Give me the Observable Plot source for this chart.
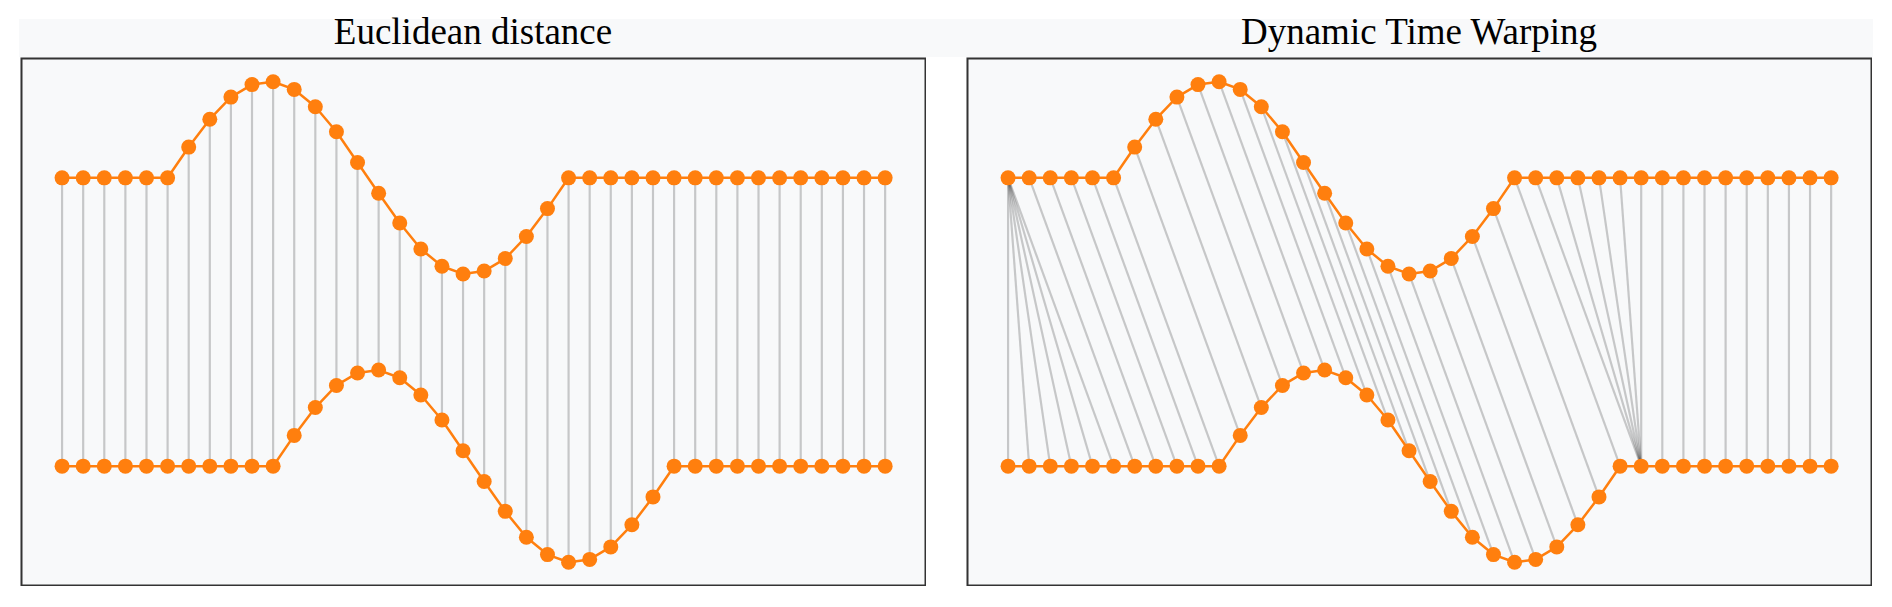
<!DOCTYPE html>
<html>
<head>
<meta charset="utf-8">
<script src="https://cdn.jsdelivr.net/npm/d3@7"></script>
<script src="https://cdn.jsdelivr.net/npm/@observablehq/plot@0.6"></script>
<style>
  html, body { margin: 0; padding: 0; background: #ffffff; }
  #wrap { position: relative; width: 1892px; height: 607px; overflow: hidden; }
  #band { position: absolute; left: 19px; top: 19px; width: 1854px; height: 38px; background: #f8f9fa; }
  .title { position: absolute; top: 13px; width: 906px; text-align: center; font-family: "Liberation Serif", "DejaVu Serif", serif; font-size: 37px; line-height: 38px; color: #000; white-space: nowrap; }
  .panel { position: absolute; top: 57px; }
</style>
</head>
<body>
<div id="wrap">
  <div id="band"></div>
  <div class="title" id="t1" style="left:20px"></div>
  <div class="title" id="t2" style="left:966px"></div>
  <div class="panel" id="p1" style="left:20px"></div>
  <div class="panel" id="p2" style="left:966px"></div>
</div>
<script>
// ---- data ----
const titles = ["Euclidean distance", "Dynamic Time Warping"];

// series A (upper curve), 40 samples
const seriesA = [0, 0, 0, 0, 0, 0, 0.32, 0.61, 0.84, 0.97, 1.00, 0.92, 0.74, 0.48, 0.16, -0.16, -0.47, -0.74, -0.92, -1.00,
                 -0.97, -0.84, -0.61, -0.32, 0, 0, 0, 0, 0, 0, 0, 0, 0, 0, 0, 0, 0, 0, 0, 0];
// series B (lower curve), 40 samples
const seriesB = [0, 0, 0, 0, 0, 0, 0, 0, 0, 0, 0, 0.32, 0.61, 0.84, 0.97, 1.00, 0.92, 0.74, 0.48, 0.16,
                 -0.16, -0.47, -0.74, -0.92, -1.00, -0.97, -0.84, -0.61, -0.32, 0, 0, 0, 0, 0, 0, 0, 0, 0, 0, 0];

// DTW warping path: [index in A, index in B]
const dtwPath = [
  [0,0],[0,1],[0,2],[0,3],[0,4],[0,5],
  [1,6],[2,7],[3,8],[4,9],[5,10],[6,11],[7,12],[8,13],[9,14],[10,15],[11,16],[12,17],
  [13,18],[14,19],[15,20],[16,21],[17,22],[18,23],[19,24],[20,25],[21,26],[22,27],[23,28],[24,29],
  [25,30],[26,30],[27,30],[28,30],[29,30],[30,30],
  [31,31],[32,32],[33,33],[34,34],[35,35],[36,36],[37,37],[38,38],[39,39]
];
// Euclidean: one-to-one matching
const euclidPath = [
  [0,0],[1,1],[2,2],[3,3],[4,4],[5,5],[6,6],[7,7],[8,8],[9,9],[10,10],[11,11],[12,12],[13,13],
  [14,14],[15,15],[16,16],[17,17],[18,18],[19,19],[20,20],[21,21],[22,22],[23,23],[24,24],[25,25],
  [26,26],[27,27],[28,28],[29,29],[30,30],[31,31],[32,32],[33,33],[34,34],[35,35],[36,36],[37,37],
  [38,38],[39,39]
];

// ---- drawing ----
const OFFSET = 1.5;   // vertical separation of the two curves (plot units)
const ORANGE = "#ff7f0e";
const ptsA = seriesA.map((v, i) => ({i, v: v + OFFSET}));
const ptsB = seriesB.map((v, i) => ({i, v: v - OFFSET}));

function panel(path) {
  const links = path.map(([a, b]) => ({xa: a, ya: seriesA[a] + OFFSET, xb: b, yb: seriesB[b] - OFFSET}));
  return Plot.plot({
    width: 906,
    height: 529,
    margin: 0,
    style: "background:#f8f9fa; display:block;",
    x: {domain: [-1.97, 40.96], axis: null},
    y: {domain: [-2.752, 2.752], axis: null},
    marks: [
      Plot.link(links, {x1: "xa", y1: "ya", x2: "xb", y2: "yb", stroke: "#000", strokeOpacity: 0.2, strokeWidth: 2.2}),
      Plot.line(ptsA, {x: "i", y: "v", stroke: ORANGE, strokeWidth: 2.5}),
      Plot.line(ptsB, {x: "i", y: "v", stroke: ORANGE, strokeWidth: 2.5}),
      Plot.dot(ptsA, {x: "i", y: "v", r: 7.5, fill: ORANGE, stroke: "none"}),
      Plot.dot(ptsB, {x: "i", y: "v", r: 7.5, fill: ORANGE, stroke: "none"}),
      Plot.frame({stroke: "#333", strokeWidth: 2, inset: 1})
    ]
  });
}

document.getElementById("t1").textContent = titles[0];
document.getElementById("t2").textContent = titles[1];
document.getElementById("p1").appendChild(panel(euclidPath));
document.getElementById("p2").appendChild(panel(dtwPath));
</script>
</body>
</html>
